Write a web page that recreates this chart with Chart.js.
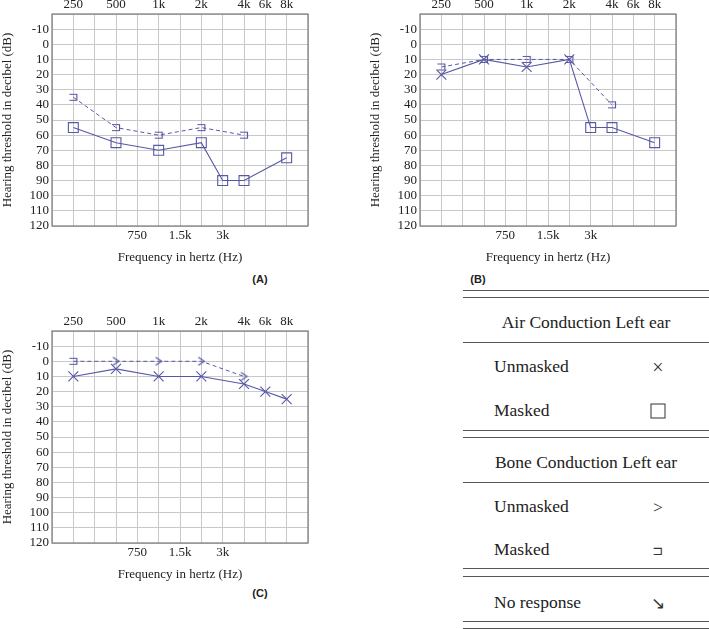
<!DOCTYPE html>
<html><head><meta charset="utf-8">
<script src="https://cdn.jsdelivr.net/npm/chart.js@4.4.0/dist/chart.umd.min.js"></script>
<style>
body{margin:0;background:#fff;width:709px;height:629px;overflow:hidden;position:relative;font-family:'Liberation Serif',serif;color:#222}
canvas.c{position:absolute}
.lbl{position:absolute;font-family:'Liberation Sans',Arial,sans-serif;font-weight:bold;font-size:11px;line-height:1;transform:translate(-50%,-50%)}
.hl{position:absolute;left:463px;width:246px;height:0;border-top:1px solid #555}
.t{position:absolute;font-size:17.5px;line-height:1;transform:translateY(-50%);white-space:nowrap}
.h{transform:translate(-50%,-50%)}
.s{position:absolute;line-height:1;transform:translate(-50%,-50%);color:#333}
.box{position:absolute;width:13px;height:13px;border:1.3px solid #333;transform:translate(-50%,-50%);color:transparent;font-size:1px;overflow:hidden}
</style></head><body>
<canvas id="cA" class="c" width="320" height="266" style="left:0;top:0"></canvas>
<canvas id="cB" class="c" width="320" height="266" style="left:368px;top:0"></canvas>
<canvas id="cC" class="c" width="320" height="266" style="left:0;top:317px"></canvas>
<div class="lbl" style="left:260px;top:279px">(A)</div>
<div class="lbl" style="left:478px;top:279px">(B)</div>
<div class="lbl" style="left:260px;top:593px">(C)</div>
<div id="legend"></div>
<script>
// ---- categories / ticks ----
const gridSteps = ['', '250', '375', '500', '750', '1k', '1.5k', '2k', '3k', '4k', '6k', '8k', ' '];
const topTickLabels = ['250', '500', '1k', '2k', '4k', '6k', '8k'];
const bottomTickLabels = ['750', '1.5k', '3k'];
const yTickValues = [-10, 0, 10, 20, 30, 40, 50, 60, 70, 80, 90, 100, 110, 120];

// ---- Panel A ----
const airFreqA = ['250', '500', '1k', '2k', '3k', '4k', '8k'];
const airMaskedA = [55, 65, 70, 65, 90, 90, 75];
const boneFreqA = ['250', '500', '1k', '2k', '4k'];
const boneMaskedA = [35, 55, 60, 55, 60];

// ---- Panel B ----
const airFreqB = ['250', '500', '1k', '2k', '3k', '4k', '8k'];
const airB = [20, 10, 15, 10, 55, 55, 65];
const airSymB = ['unmasked', 'unmasked', 'unmasked', 'unmasked', 'masked', 'masked', 'masked'];
const boneFreqB = ['250', '500', '1k', '2k', '4k'];
const boneMaskedB = [15, 10, 10, 10, 40];

// ---- Panel C ----
const airFreqC = ['250', '500', '1k', '2k', '4k', '6k', '8k'];
const airUnmaskedC = [10, 5, 10, 10, 15, 20, 25];
const boneFreqC = ['250', '500', '1k', '2k', '4k'];
const boneC = [0, 0, 0, 0, 10];
const boneSymC = ['masked', 'unmasked', 'unmasked', 'unmasked', 'unmasked'];

// ---- legend ----
const legendRows = [
  {type: 'header', text: 'Air Conduction Left ear'},
  {type: 'row', text: 'Unmasked', sym: '×'},
  {type: 'row', text: 'Masked', sym: '□'},
  {type: 'header', text: 'Bone Conduction Left ear'},
  {type: 'row', text: 'Unmasked', sym: '>'},
  {type: 'row', text: 'Masked', sym: '⊐'},
  {type: 'row', text: 'No response', sym: '↘'}
];

const COLOR = '#5757a6';
Chart.defaults.font.family = "'Liberation Serif', serif";
Chart.defaults.font.size = 13;
Chart.defaults.color = '#222';

function mk(w, h, draw) {
  const c = document.createElement('canvas');
  c.width = w; c.height = h;
  const g = c.getContext('2d');
  g.strokeStyle = COLOR; g.lineWidth = 1.2;
  g.beginPath(); draw(g); g.stroke();
  return c;
}
const bracketImg = mk(10, 9, g => { g.moveTo(1, 1.5); g.lineTo(8.5, 1.5); g.lineTo(8.5, 7.5); g.lineTo(1, 7.5); });
const chevronImg = mk(9, 10, g => { g.moveTo(1.5, 1); g.lineTo(7.5, 5); g.lineTo(1.5, 9); });

const airStyle = {unmasked: 'crossRot', masked: 'rect'};
const boneStyle = {unmasked: chevronImg, masked: bracketImg};

function pts(freqs, vals) { return freqs.map((f, i) => ({x: f, y: vals[i]})); }

function airDS(freqs, vals, syms) {
  return {data: pts(freqs, vals), borderColor: COLOR, borderWidth: 1.1,
    pointStyle: syms.map(s => airStyle[s]), pointRadius: 7,
    pointBorderColor: COLOR, pointBackgroundColor: 'rgba(0,0,0,0)', pointBorderWidth: 1.1,
    tension: 0, spanGaps: true};
}
function boneDS(freqs, vals, syms) {
  return {data: pts(freqs, vals), borderColor: COLOR, borderWidth: 1, borderDash: [4, 3],
    pointStyle: syms.map(s => boneStyle[s]), pointRadius: 5,
    pointBorderColor: COLOR, pointBackgroundColor: 'rgba(0,0,0,0)',
    tension: 0, spanGaps: true};
}

const frame = {
  id: 'frame',
  beforeDatasetsDraw(chart) {
    const a = chart.chartArea, c = chart.ctx;
    c.save(); c.strokeStyle = '#7a7a7a'; c.lineWidth = 1.2;
    c.strokeRect(a.left, a.top, a.right - a.left, a.bottom - a.top);
    c.restore();
  }
};

function makeChart(id, datasets) {
  return new Chart(document.getElementById(id), {
    type: 'line',
    data: {labels: gridSteps, datasets},
    plugins: [frame],
    options: {
      responsive: false, animation: false, devicePixelRatio: 1,
      layout: {padding: {left: 0, right: 12, top: 0, bottom: 0}},
      plugins: {legend: {display: false}, tooltip: {enabled: false}},
      scales: {
        x: {type: 'category', position: 'top', offset: false,
          grid: {color: '#c8c8c8', drawTicks: false}, border: {display: false},
          ticks: {autoSkip: false, maxRotation: 0, padding: 2,
            callback: v => topTickLabels.includes(gridSteps[v]) ? gridSteps[v] : ''},
          afterFit: s => { s.height = 14; }},
        x2: {type: 'category', position: 'bottom', offset: false,
          grid: {display: false, drawTicks: false}, border: {display: false},
          ticks: {autoSkip: false, maxRotation: 0, padding: 2,
            callback: v => bottomTickLabels.includes(gridSteps[v]) ? gridSteps[v] : ''},
          title: {display: true, text: 'Frequency in hertz (Hz)', padding: {top: 0, bottom: 1}},
          afterFit: s => { s.height = 40; }},
        y: {reverse: true, min: -20, max: 120,
          grid: {color: '#c8c8c8', drawTicks: false}, border: {display: false},
          afterBuildTicks: s => { s.ticks = [-20].concat(yTickValues).map(v => ({value: v})); },
          ticks: {autoSkip: false, padding: 3, callback: v => yTickValues.includes(v) ? String(v) : ''},
          title: {display: true, text: 'Hearing threshold in decibel (dB)', padding: 0},
          afterFit: s => { s.width = 52; }}
      }
    }
  });
}

makeChart('cA', [
  airDS(airFreqA, airMaskedA, airFreqA.map(() => 'masked')),
  boneDS(boneFreqA, boneMaskedA, boneFreqA.map(() => 'masked'))
]);
makeChart('cB', [
  airDS(airFreqB, airB, airSymB),
  boneDS(boneFreqB, boneMaskedB, boneFreqB.map(() => 'masked'))
]);
makeChart('cC', [
  airDS(airFreqC, airUnmaskedC, airFreqC.map(() => 'unmasked')),
  boneDS(boneFreqC, boneC, boneSymC)
]);

// legend table layout
const lg = document.getElementById('legend');
const lineYs = [290, 297, 342, 430, 437, 482, 568, 576, 621, 628];
lineYs.forEach(y => { const d = document.createElement('div'); d.className = 'hl'; d.style.top = (y - 0.5) + 'px'; lg.appendChild(d); });
const rowYs = [323, 367, 411, 463, 507, 550, 603];
const symFont = {'×': ["'Liberation Serif', serif", 20], '>': ["'Liberation Serif', serif", 17],
  '⊐': ["'DejaVu Sans', sans-serif", 13], '↘': ["'DejaVu Sans', sans-serif", 17]};
legendRows.forEach((r, i) => {
  const d = document.createElement('div');
  d.className = 't' + (r.type === 'header' ? ' h' : '');
  d.textContent = r.text;
  d.style.top = rowYs[i] + 'px';
  d.style.left = r.type === 'header' ? '586px' : '494px';
  lg.appendChild(d);
  if (r.sym) {
    const s = document.createElement('div');
    s.textContent = r.sym;
    s.style.left = '658px'; s.style.top = rowYs[i] + 'px';
    if (r.sym === '□') {
      s.className = 'box';
    } else {
      s.className = 's';
      s.style.fontFamily = symFont[r.sym][0];
      s.style.fontSize = symFont[r.sym][1] + 'px';
    }
    lg.appendChild(s);
  }
});
</script>
</body></html>
